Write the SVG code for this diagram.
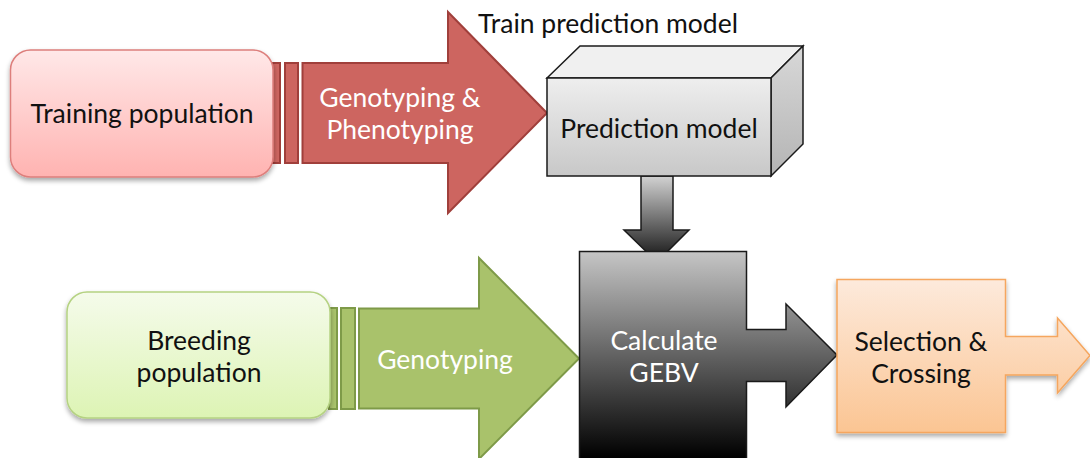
<svg xmlns="http://www.w3.org/2000/svg" width="1090" height="458" viewBox="0 0 1090 458">
  <defs>
    <linearGradient id="pinkFill" x1="0" y1="0" x2="0" y2="1">
      <stop offset="0" stop-color="#ffe8e8"/>
      <stop offset="1" stop-color="#ffb3b1"/>
    </linearGradient>
    <linearGradient id="limeFill" x1="0" y1="0" x2="0" y2="1">
      <stop offset="0" stop-color="#f5fbeb"/>
      <stop offset="1" stop-color="#ddf4b4"/>
    </linearGradient>
    <linearGradient id="peachFill" gradientUnits="userSpaceOnUse" x1="0" y1="279" x2="0" y2="432">
      <stop offset="0" stop-color="#fdeadc"/>
      <stop offset="1" stop-color="#fbc593"/>
    </linearGradient>
    <linearGradient id="frontFill" x1="0" y1="0" x2="0" y2="1">
      <stop offset="0" stop-color="#eeeeee"/>
      <stop offset="1" stop-color="#c8c8c8"/>
    </linearGradient>
    <linearGradient id="sideFill" x1="0" y1="0" x2="0" y2="1">
      <stop offset="0" stop-color="#d8d8d8"/>
      <stop offset="1" stop-color="#b4b4b4"/>
    </linearGradient>
    <linearGradient id="downFill" gradientUnits="userSpaceOnUse" x1="0" y1="176" x2="0" y2="262">
      <stop offset="0" stop-color="#d2d2d2"/>
      <stop offset="1" stop-color="#111111"/>
    </linearGradient>
    <linearGradient id="gebvFill" gradientUnits="userSpaceOnUse" x1="0" y1="251" x2="0" y2="458">
      <stop offset="0" stop-color="#c6c6c6"/>
      <stop offset="1" stop-color="#000000"/>
    </linearGradient>
    <filter id="softShadow" x="-10%" y="-10%" width="120%" height="130%">
      <feGaussianBlur in="SourceAlpha" stdDeviation="2.5"/>
      <feOffset dx="0" dy="3" result="blur"/>
      <feComponentTransfer><feFuncA type="linear" slope="0.35"/></feComponentTransfer>
      <feMerge><feMergeNode/><feMergeNode in="SourceGraphic"/></feMerge>
    </filter>
  </defs>
  <style>
    text { font-family: Lato, "Open Sans", "Liberation Sans", sans-serif; font-size: 26.5px; text-anchor: middle; }
    .dark { fill: #111111; }
    .light { fill: #ffffff; }
    .redArrow { fill: #cd6560; stroke: #a03f3b; stroke-width: 2; }
    .greenArrow { fill: #a9c26b; stroke: #7e9a48; stroke-width: 2; }
    .edge { stroke: #1a1a1a; stroke-width: 1.5; stroke-linejoin: miter; }
  </style>

  <!-- connectors: block arrows between stages -->
  <g id="connectors">
    <g id="arrow-genopheno">
      <rect class="redArrow" x="272" y="63" width="8" height="100"/>
      <rect class="redArrow" x="285" y="63" width="13" height="100"/>
      <path class="redArrow" d="M302.5,63 H448 V12 L547,113 L448,213 V163 H302.5 Z"/>
      <text class="light" x="400" y="107">Genotyping &amp;</text>
      <text class="light" x="400" y="139">Phenotyping</text>
    </g>
    <g id="arrow-geno">
      <rect class="greenArrow" x="329" y="308" width="8" height="101"/>
      <rect class="greenArrow" x="341" y="308" width="14" height="101"/>
      <path class="greenArrow" d="M359,308.5 H479 V258 L579,358.5 L479,459 V408.5 H359 Z"/>
      <text class="light" x="445" y="369">Genotyping</text>
    </g>
    <path id="arrow-down" class="edge" fill="url(#downFill)" d="M641,176 H673 V230 H689 L657,262 L624,230 H641 Z"/>
  </g>

  <g id="training-population">
    <rect x="10.5" y="50" width="262.5" height="127" rx="20" ry="20" fill="url(#pinkFill)" stroke="#dd7f7c" stroke-width="1.5" filter="url(#softShadow)"/>
    <text class="dark" x="142" y="123">Training population</text>
  </g>

  <g id="train-label">
    <text class="dark" x="608" y="33">Train prediction model</text>
  </g>

  <g id="prediction-model">
    <path class="edge" fill="#f0f0f0" d="M547,78 L580,46 H803 L771,78 Z"/>
    <path class="edge" fill="url(#sideFill)" d="M771,78 L803,46 V144 L771,176 Z"/>
    <rect class="edge" x="547" y="78" width="224" height="98" fill="url(#frontFill)"/>
    <text class="dark" x="659" y="138">Prediction model</text>
  </g>

  <g id="breeding-population">
    <rect x="67" y="292" width="263" height="126" rx="20" ry="20" fill="url(#limeFill)" stroke="#b5d282" stroke-width="1.5" filter="url(#softShadow)"/>
    <text class="dark" x="199" y="350">Breeding</text>
    <text class="dark" x="199" y="382">population</text>
  </g>

  <g id="calculate-gebv">
    <path class="edge" fill="url(#gebvFill)" d="M579.5,251.5 H746.5 V329.5 H786 V304 L837,355 L786,407 V381.5 H746.5 V470 H579.5 Z"/>
    <text class="light" x="664" y="350">Calculate</text>
    <text class="light" x="664" y="382">GEBV</text>
  </g>

  <g id="selection-crossing">
    <path fill="url(#peachFill)" stroke="#f5a65e" stroke-width="1.5" filter="url(#softShadow)" d="M837,279.5 H1005.5 V336.5 H1057.5 V318 L1090,355.5 L1057.5,393 V375 H1005.5 V432.5 H837 Z"/>
    <text class="dark" x="921" y="351">Selection &amp;</text>
    <text class="dark" x="921" y="383">Crossing</text>
  </g>
</svg>
